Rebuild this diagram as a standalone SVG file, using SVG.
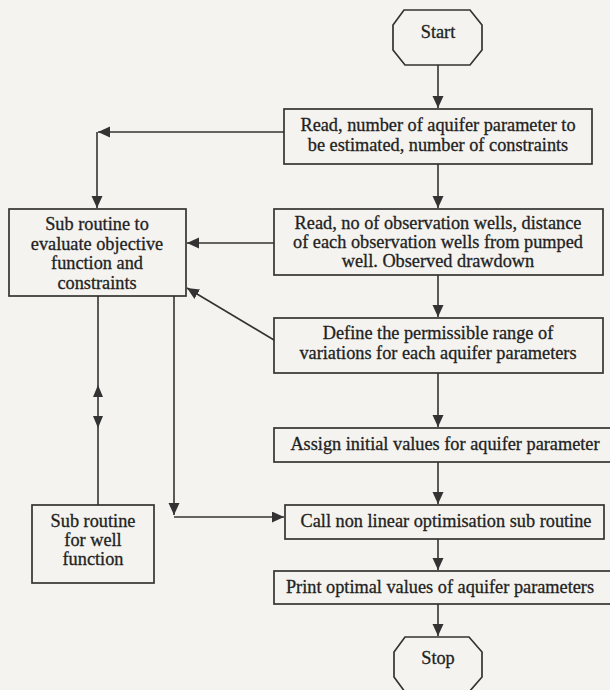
<svg xmlns="http://www.w3.org/2000/svg" width="610" height="690" viewBox="0 0 610 690">
<style>
.box{fill:none;stroke:#333;stroke-width:1.7}
.t{font-family:'Liberation Serif','Times New Roman',serif;font-size:18.3px;fill:#222;stroke:#222;stroke-width:0.3;text-anchor:middle}
.c{fill:none;stroke:#333;stroke-width:1.6}
.h{fill:#333}
</style>
<defs>
<marker id="arr" markerUnits="userSpaceOnUse" markerWidth="14" markerHeight="12" refX="12" refY="5.5" orient="auto">
<path d="M0,0 L12,5.5 L0,11 Z" fill="#333"/>
</marker>
</defs>
<rect width="610" height="690" fill="#f4f3ef"/>
<g id="connectors">
<path class="c" d="M438,65 V108" marker-end="url(#arr)"/>
<path class="c" d="M284,132 H98" marker-end="url(#arr)"/>
<path class="c" d="M97,132 V208" marker-end="url(#arr)"/>
<path class="c" d="M438,164 V208" marker-end="url(#arr)"/>
<path class="c" d="M274,243 H187" marker-end="url(#arr)"/>
<path class="c" d="M438,275 V317" marker-end="url(#arr)"/>
<path class="c" d="M274,340 L187,288" marker-end="url(#arr)"/>
<path class="c" d="M438,373 V427" marker-end="url(#arr)"/>
<path class="c" d="M438,462 V504" marker-end="url(#arr)"/>
<path class="c" d="M98,296 V505"/>
<path class="h" d="M98,385 L93,397 L103,397 Z"/>
<path class="h" d="M98,428 L93,416 L103,416 Z"/>
<path class="c" d="M174,296 V515" marker-end="url(#arr)"/>
<path class="c" d="M174,517 H284" marker-end="url(#arr)"/>
<path class="c" d="M438,539 V570" marker-end="url(#arr)"/>
<path class="c" d="M438,604 V636" marker-end="url(#arr)"/>
</g>
<g id="start">
<polygon class="box" points="404,10 470,10 482,25 482,50 470,65 405,65 393,50 393,25"/>
<text class="t" x="438" y="38">Start</text>
</g>
<g id="read-params">
<rect class="box" x="284" y="109" width="308" height="55"/>
<text class="t" x="438" y="131">Read, number of aquifer parameter to</text>
<text class="t" x="438" y="151">be estimated, number of constraints</text>
</g>
<g id="subroutine-objective">
<rect class="box" x="9" y="209" width="177" height="87"/>
<text class="t" x="97" y="230">Sub routine to</text>
<text class="t" x="97" y="250">evaluate objective</text>
<text class="t" x="97" y="269">function and</text>
<text class="t" x="97" y="289">constraints</text>
</g>
<g id="read-wells">
<rect class="box" x="274" y="209" width="329" height="66"/>
<text class="t" x="438" y="229">Read, no of observation wells, distance</text>
<text class="t" x="438" y="248">of each observation wells from pumped</text>
<text class="t" x="438" y="267">well. Observed drawdown</text>
</g>
<g id="define-range">
<rect class="box" x="274" y="318" width="329" height="55"/>
<text class="t" x="438" y="339">Define the permissible range of</text>
<text class="t" x="438" y="359">variations for each aquifer parameters</text>
</g>
<g id="assign-initial">
<rect class="box" x="274" y="428" width="340" height="34"/>
<text class="t" x="445" y="450">Assign initial values for aquifer parameter</text>
</g>
<g id="subroutine-well">
<rect class="box" x="32" y="505" width="122" height="78"/>
<text class="t" x="93" y="527">Sub routine</text>
<text class="t" x="93" y="546">for well</text>
<text class="t" x="93" y="565">function</text>
</g>
<g id="call-optimisation">
<rect class="box" x="285" y="505" width="319" height="34"/>
<text class="t" x="446" y="527">Call non linear optimisation sub routine</text>
</g>
<g id="print-optimal">
<rect class="box" x="274" y="571" width="340" height="33"/>
<text class="t" x="440" y="593">Print optimal values of aquifer parameters</text>
</g>
<g id="stop">
<polygon class="box" points="405,637 469,637 482,652 482,677 469,692 405,692 394,677 394,652"/>
<text class="t" x="438" y="664">Stop</text>
</g>
</svg>
